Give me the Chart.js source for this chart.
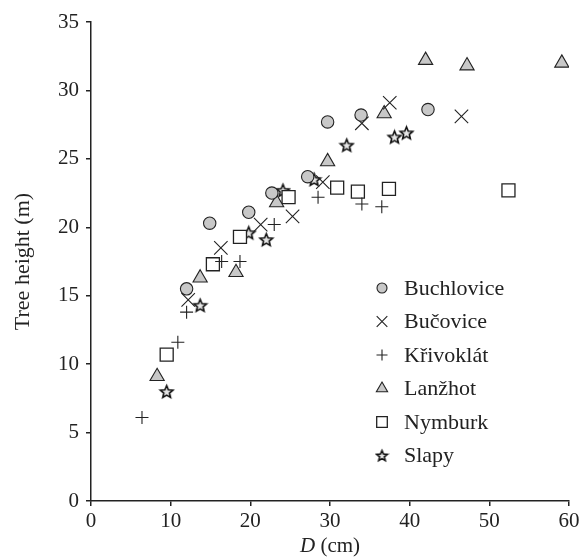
<!DOCTYPE html>
<html>
<head>
<meta charset="utf-8">
<script src="https://cdn.jsdelivr.net/npm/chart.js@4.4.1/dist/chart.umd.min.js"></script>
<style>
  html, body { margin: 0; padding: 0; background: #fff; }
  #wrap { width: 583px; height: 559px; }
</style>
</head>
<body>
<div id="wrap"><canvas id="treeChart" width="583" height="559"></canvas></div>
<script>
// D (cm) and tree height (m) for each site
const siteNames = ['Buchlovice', 'Bučovice', 'Křivoklát', 'Lanžhot', 'Nymburk', 'Slapy'];

const buchD = [12.0, 14.9, 19.8, 22.7, 27.2, 29.7, 33.9, 42.3];
const buchH = [15.5, 20.3, 21.1, 22.5, 23.7, 27.7, 28.2, 28.6];

const bucD = [12.2, 16.3, 21.3, 25.3, 29.1, 34.0, 37.5, 46.5];
const bucH = [14.7, 18.5, 20.2, 20.8, 23.3, 27.6, 29.1, 28.1];

const krivD = [6.4, 10.9, 12.0, 16.4, 18.7, 23.0, 28.5, 34.0, 36.5];
const krivH = [6.1, 11.6, 13.8, 17.5, 17.5, 20.2, 22.2, 21.7, 21.5];

const lanD = [8.3, 13.7, 18.2, 23.3, 29.7, 36.8, 42.0, 47.2, 59.1];
const lanH = [9.1, 16.3, 16.7, 21.8, 24.8, 28.3, 32.2, 31.8, 32.0];

const nymD = [9.5, 15.3, 18.7, 24.8, 30.9, 33.5, 37.4, 52.4];
const nymH = [10.7, 17.3, 19.3, 22.2, 22.9, 22.6, 22.8, 22.7];

const slapD = [9.5, 13.7, 19.8, 22.0, 24.1, 28.0, 32.1, 38.1, 39.6];
const slapH = [8.0, 14.3, 19.6, 19.1, 22.7, 23.5, 26.0, 26.6, 26.9];

const xTicks = [0, 10, 20, 30, 40, 50, 60];
const yTicks = [0, 5, 10, 15, 20, 25, 30, 35];

function pts(xs, ys) {
  return xs.map((x, i) => ({ x: x, y: ys[i] }));
}

// five-pointed star marker
function makeStar(R) {
  const c = document.createElement('canvas');
  const s = Math.ceil(2 * R + 3);
  c.width = s; c.height = s;
  const g = c.getContext('2d');
  const cx = s / 2, cy = s / 2 + 0.6, r = R * 0.45;
  g.beginPath();
  for (let i = 0; i < 10; i++) {
    const rad = (i % 2 === 0) ? R : r;
    const a = -Math.PI / 2 + i * Math.PI / 5;
    const px = cx + rad * Math.cos(a), py = cy + rad * Math.sin(a);
    if (i === 0) g.moveTo(px, py); else g.lineTo(px, py);
  }
  g.closePath();
  g.fillStyle = '#e6e6e6';
  g.fill();
  g.lineWidth = 1.6;
  g.strokeStyle = '#111';
  g.stroke();
  return c;
}
const starImg = makeStar(6.6);
const starSmall = makeStar(5.6);

const serif = "'Liberation Serif', 'DejaVu Serif', serif";
const grey = '#c8c8c8';
const ink = '#222';

const datasets = [
  { label: siteNames[0], data: pts(buchD, buchH), pointStyle: 'circle', pointRadius: 6.2,
    backgroundColor: grey, borderColor: ink, borderWidth: 1.1 },
  { label: siteNames[1], data: pts(bucD, bucH), pointStyle: 'crossRot', pointRadius: 9.5,
    backgroundColor: ink, borderColor: ink, borderWidth: 1.1 },
  { label: siteNames[2], data: pts(krivD, krivH), pointStyle: 'cross', pointRadius: 6.5,
    backgroundColor: ink, borderColor: ink, borderWidth: 1.1 },
  { label: siteNames[3], data: pts(lanD, lanH), pointStyle: 'triangle', pointRadius: 8.2,
    backgroundColor: grey, borderColor: ink, borderWidth: 1.1 },
  { label: siteNames[4], data: pts(nymD, nymH), pointStyle: 'rect', pointRadius: 9.2,
    backgroundColor: '#fff', borderColor: ink, borderWidth: 1.3 },
  { label: siteNames[5], data: pts(slapD, slapH), pointStyle: starImg, pointRadius: 7,
    backgroundColor: '#fff', borderColor: ink, borderWidth: 1 }
];

// legend in the lower right of the plot, and the x title with italic D
const extras = {
  id: 'extras',
  afterDraw(chart) {
    const ctx = chart.ctx;
    ctx.save();
    const legX = 382, legY0 = 288, step = 33.5;
    chart.data.datasets.forEach((ds, i) => {
      const y = legY0 + i * step;
      const small = ds.pointStyle === 'crossRot' ? 7.5 : ds.pointStyle === 'rect' ? 7.5 :
        ds.pointStyle === 'triangle' ? 6.5 : ds.pointStyle === 'cross' ? 5.5 : 5;
      ctx.fillStyle = ds.backgroundColor;
      ctx.strokeStyle = ds.borderColor;
      ctx.lineWidth = ds.borderWidth;
      if (typeof ds.pointStyle === 'string') {
        Chart.helpers.drawPoint(ctx, { pointStyle: ds.pointStyle, radius: small, rotation: 0, borderWidth: ds.borderWidth }, legX, y);
      } else {
        ctx.drawImage(starSmall, legX - starSmall.width / 2, y - starSmall.height / 2);
      }
      ctx.fillStyle = '#222';
      ctx.font = '22px ' + serif;
      ctx.textAlign = 'left';
      ctx.textBaseline = 'middle';
      ctx.fillText(ds.label, 404, y + 1);
    });

    ctx.textBaseline = 'middle';
    ctx.textAlign = 'left';
    ctx.font = 'italic 21px ' + serif;
    const wD = ctx.measureText('D').width;
    ctx.font = '21px ' + serif;
    const wRest = ctx.measureText(' (cm)').width;
    const cx = (chart.chartArea.left + chart.chartArea.right) / 2;
    let x0 = cx - (wD + wRest) / 2;
    ctx.font = 'italic 21px ' + serif;
    ctx.fillText('D', x0, 546);
    ctx.font = '21px ' + serif;
    ctx.fillText(' (cm)', x0 + wD, 546);
    ctx.restore();
  }
};

new Chart(document.getElementById('treeChart'), {
  type: 'scatter',
  data: { datasets: datasets },
  plugins: [extras],
  options: {
    responsive: false,
    animation: false,
    layout: { padding: { left: 0, right: 14, top: 22, bottom: 0 } },
    plugins: {
      legend: { display: false },
      tooltip: { enabled: false }
    },
    scales: {
      x: {
        type: 'linear', min: 0, max: 60,
        afterBuildTicks: s => { s.ticks = xTicks.map(v => ({ value: v })); },
        afterFit: s => { s.height = 58; },
        border: { display: true, color: '#222', width: 1.5 },
        grid: { display: true, drawOnChartArea: false, drawTicks: true, tickLength: 5, color: '#222', lineWidth: 1.5 },
        ticks: { color: '#222', font: { family: serif, size: 21 }, padding: 3, maxRotation: 0 },
        title: { display: false }
      },
      y: {
        type: 'linear', min: 0, max: 35,
        afterBuildTicks: s => { s.ticks = yTicks.map(v => ({ value: v })); },
        afterFit: s => { s.width = 91; },
        border: { display: true, color: '#222', width: 1.5 },
        grid: { display: true, drawOnChartArea: false, drawTicks: true, tickLength: 5, color: '#222', lineWidth: 1.5 },
        ticks: { color: '#222', font: { family: serif, size: 21 }, padding: 7 },
        title: { display: true, text: 'Tree height (m)', color: '#222', font: { family: serif, size: 22 }, padding: { top: 10, bottom: 0 } }
      }
    }
  }
});
</script>
</body>
</html>
